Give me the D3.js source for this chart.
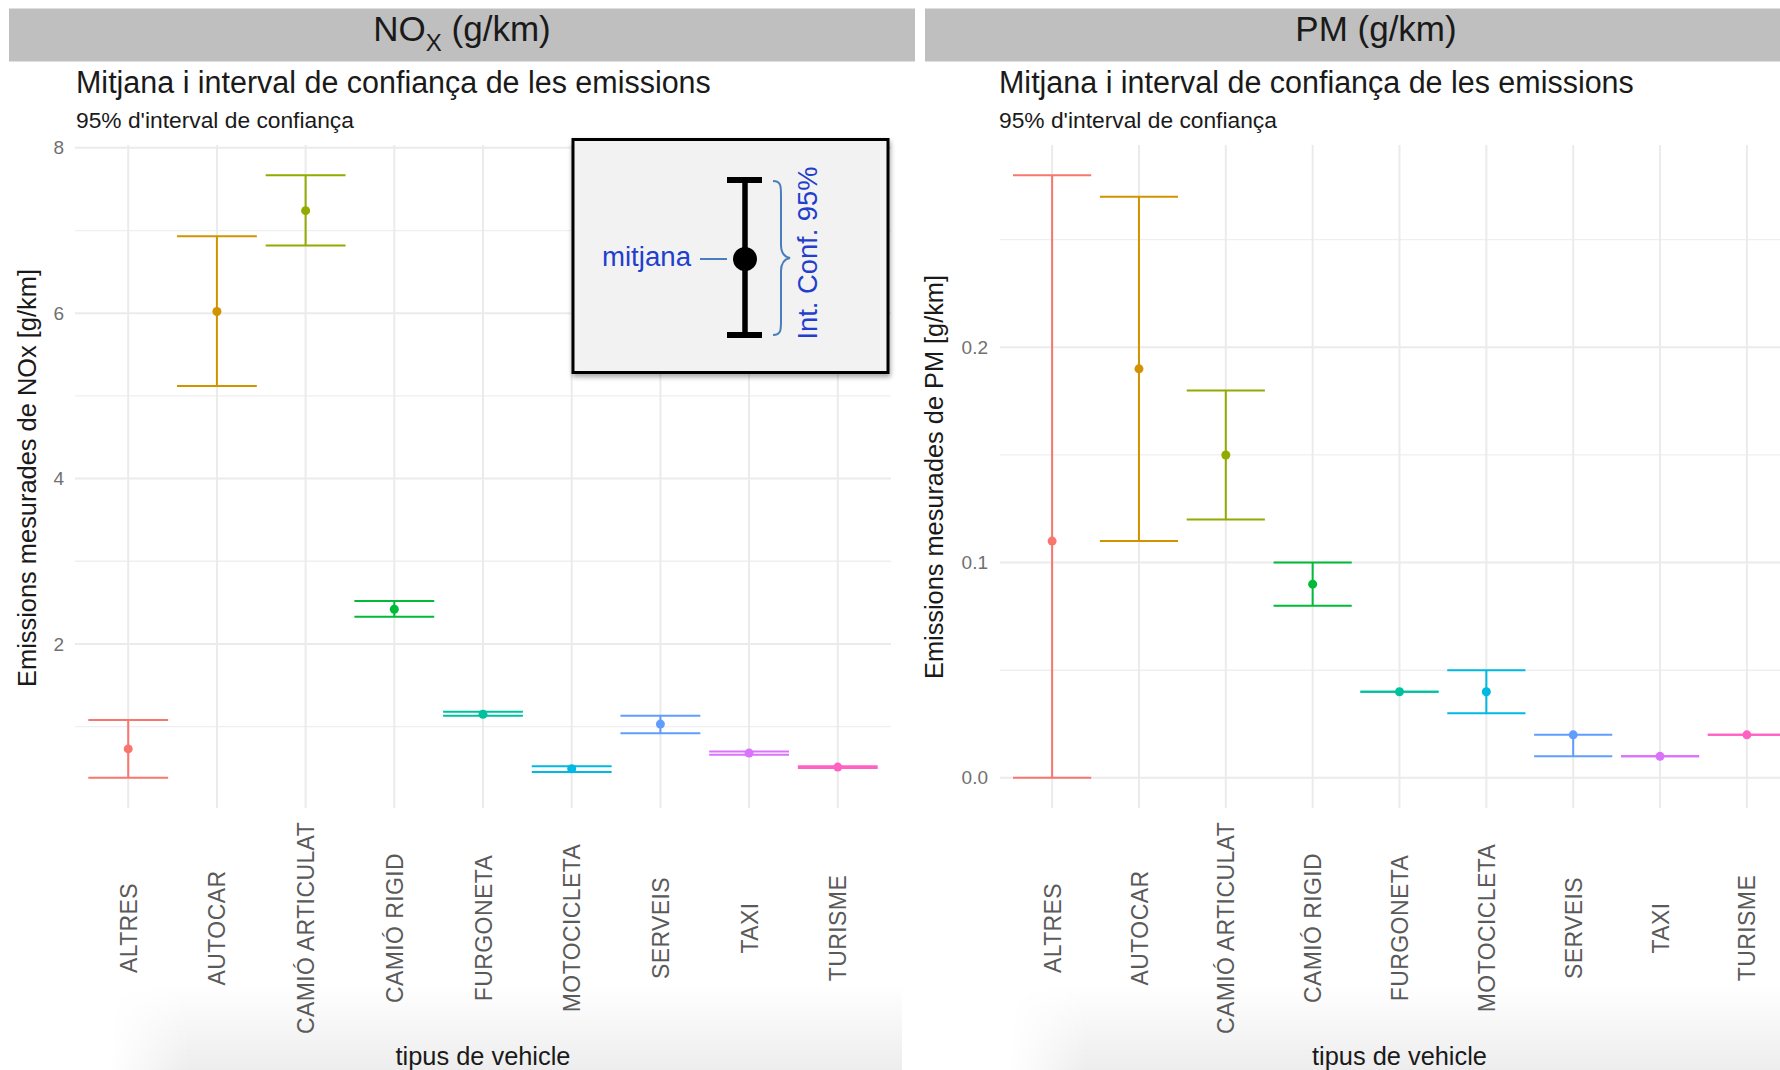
<!DOCTYPE html>
<html><head><meta charset="utf-8">
<script src="https://cdn.jsdelivr.net/npm/d3@7"></script>
<style>
body{margin:0;background:#fff}
svg{display:block}
text{font-family:"Liberation Sans",Arial,Helvetica,sans-serif}
</style>
</head><body>
<svg id="c" width="1780" height="1070"></svg>
<script>
// ---------------- data ----------------
const categories = ["ALTRES","AUTOCAR","CAMIÓ ARTICULAT","CAMIÓ RIGID","FURGONETA","MOTOCICLETA","SERVEIS","TAXI","TURISME"];
const colors = ["#F8766D","#D39200","#93AA00","#00BA38","#00C19F","#00B9E3","#619CFF","#DB72FB","#FF61C3"];

const noxMean = [0.73, 6.02, 7.24, 2.42, 1.15, 0.49, 1.03, 0.68, 0.51];
const noxLow  = [0.38, 5.12, 6.82, 2.33, 1.13, 0.45, 0.92, 0.66, 0.50];
const noxHigh = [1.08, 6.93, 7.67, 2.52, 1.18, 0.52, 1.13, 0.70, 0.52];

const pmMean = [0.11, 0.19, 0.15, 0.09, 0.04, 0.04, 0.02, 0.01, 0.02];
const pmLow  = [0.00, 0.11, 0.12, 0.08, 0.04, 0.03, 0.01, 0.01, 0.02];
const pmHigh = [0.28, 0.27, 0.18, 0.10, 0.04, 0.05, 0.02, 0.01, 0.02];

const noxMajorTicks = [2, 4, 6, 8];
const noxMinorTicks = [1, 3, 5, 7];
const pmMajorTicks = [0, 0.1, 0.2];
const pmMinorTicks = [0.05, 0.15, 0.25];

const titleText = "Mitjana i interval de confiança de les emissions";
const subtitleText = "95% d'interval de confiança";
const xTitleText = "tipus de vehicle";

// ---------------- drawing ----------------
const svg = d3.select("#c");
svg.append("rect").attr("width",1780).attr("height",1070).attr("fill","#fff");

const defs = svg.append("defs");
const vg = defs.append("linearGradient").attr("id","shadeV").attr("x1",0).attr("y1",0).attr("x2",0).attr("y2",1);
vg.append("stop").attr("offset","0").attr("stop-color","#000").attr("stop-opacity",0);
vg.append("stop").attr("offset","1").attr("stop-color","#000").attr("stop-opacity",0.07);
const hg = defs.append("linearGradient").attr("id","fadeH").attr("x1",0).attr("y1",0).attr("x2",1).attr("y2",0);
hg.append("stop").attr("offset","0").attr("stop-color","#fff").attr("stop-opacity",0);
hg.append("stop").attr("offset","0.1").attr("stop-color","#fff").attr("stop-opacity",1);
hg.append("stop").attr("offset","1").attr("stop-color","#fff").attr("stop-opacity",1);
const mask = defs.append("mask").attr("id","fadeMask").attr("maskContentUnits","objectBoundingBox");
mask.append("rect").attr("width",1).attr("height",1).attr("fill","url(#fadeH)");
const sh = defs.append("filter").attr("id","boxShadow").attr("x","-10%").attr("y","-10%").attr("width","130%").attr("height","130%");
sh.append("feDropShadow").attr("dx",1).attr("dy",3).attr("stdDeviation",2.5).attr("flood-color","#000").attr("flood-opacity",0.35);

// bottom soft shading (screenshot shadow)
svg.append("rect").attr("x",110).attr("y",985).attr("width",792).attr("height",85)
  .attr("fill","url(#shadeV)").attr("mask","url(#fadeMask)");
svg.append("rect").attr("x",1010).attr("y",985).attr("width",770).attr("height",85)
  .attr("fill","url(#shadeV)").attr("mask","url(#fadeMask)");

function fit(sel, target){
  const fs = parseFloat(sel.attr("font-size"));
  const w = sel.node().getComputedTextLength();
  sel.attr("font-size", (fs*target/w).toFixed(2));
}

const panelTop = 145, panelBottom = 808;

function drawPanel(cfg){
  const g = svg.append("g");
  // strip
  g.append("rect").attr("x",cfg.stripX0).attr("y",8.5).attr("width",cfg.stripX1-cfg.stripX0).attr("height",53)
    .attr("fill","#BFBFBF");
  const st = g.append("text").attr("x",cfg.stripCenter).attr("y",41).attr("text-anchor","middle")
    .attr("font-size",35).attr("fill","#1a1a1a");
  if (cfg.sub){
    st.append("tspan").text(cfg.stripMain);
    st.append("tspan").attr("font-size",24).attr("dy",10).text(cfg.sub);
    st.append("tspan").attr("dy",-10).text(cfg.stripRest);
  } else {
    st.text(cfg.stripMain);
  }

  // titles
  const t = g.append("text").attr("x",cfg.titleX).attr("y",93).attr("font-size",26).attr("fill","#1a1a1a").text(titleText);
  fit(t, 635);
  const s = g.append("text").attr("x",cfg.titleX).attr("y",128).attr("font-size",20).attr("fill","#1a1a1a").text(subtitleText);
  fit(s, 278);

  // scales
  const lo = d3.min(cfg.low), hi = d3.max(cfg.high), pad = (hi-lo)*0.05;
  const y = d3.scaleLinear().domain([lo-pad, hi+pad]).range([panelBottom, panelTop]);
  const x = d3.scalePoint().domain(categories).range([cfg.x0, cfg.x1]).padding(0.6);
  const step = x.step();

  // grid
  const grid = g.append("g");
  grid.selectAll(".minor").data(cfg.minor).join("line")
    .attr("x1",cfg.x0).attr("x2",cfg.x1).attr("y1",d=>y(d)).attr("y2",d=>y(d))
    .attr("stroke","#EFEFEF").attr("stroke-width",1.3);
  grid.selectAll(".major").data(cfg.major).join("line")
    .attr("x1",cfg.x0).attr("x2",cfg.x1).attr("y1",d=>y(d)).attr("y2",d=>y(d))
    .attr("stroke","#EBEBEB").attr("stroke-width",2);
  grid.selectAll(".vmajor").data(categories).join("line")
    .attr("x1",d=>x(d)).attr("x2",d=>x(d)).attr("y1",panelTop).attr("y2",panelBottom)
    .attr("stroke","#EBEBEB").attr("stroke-width",2);

  // y axis via d3.axisLeft, styled
  const ya = g.append("g").attr("transform",`translate(${cfg.yLabelX},0)`)
    .call(d3.axisLeft(y).tickValues(cfg.major).tickFormat(cfg.fmt).tickSize(0).tickPadding(0));
  ya.select(".domain").remove();
  ya.selectAll("text").attr("font-size",19).attr("fill","#707070").attr("font-family",null);

  // x axis labels
  const xa = g.append("g").attr("transform",`translate(0,928)`)
    .call(d3.axisBottom(x).tickSize(0).tickPadding(0));
  xa.select(".domain").remove();
  xa.selectAll("text").attr("transform","rotate(-90)").attr("text-anchor","middle")
    .attr("dy","0.35em").attr("y",0).attr("x",0)
    .attr("font-size",23).attr("fill","#5a5a5a").attr("letter-spacing","0.4px").attr("font-family",null);

  // axis titles
  const yt = g.append("text").attr("transform",`translate(${cfg.yTitleX},${cfg.yTitleY}) rotate(-90)`)
    .attr("text-anchor","middle").attr("dy","0.35em").attr("font-size",25).attr("fill","#1a1a1a").text(cfg.yTitle);
  fit(yt, cfg.yTitleLen);
  const xt = g.append("text").attr("x",(cfg.x0+cfg.x1)/2).attr("y",1065).attr("text-anchor","middle")
    .attr("font-size",25).attr("fill","#1a1a1a").text(xTitleText);
  fit(xt, 175);

  // error bars
  const idx = d3.range(categories.length);
  const eb = g.append("g");
  eb.selectAll(".v").data(idx).join("line")
    .attr("x1",i=>x(categories[i])).attr("x2",i=>x(categories[i]))
    .attr("y1",i=>y(cfg.low[i])).attr("y2",i=>y(cfg.high[i]))
    .attr("stroke",i=>colors[i]).attr("stroke-width",2);
  eb.selectAll(".lo").data(idx).join("line")
    .attr("x1",i=>x(categories[i])-0.45*step).attr("x2",i=>x(categories[i])+0.45*step)
    .attr("y1",i=>y(cfg.low[i])).attr("y2",i=>y(cfg.low[i]))
    .attr("stroke",i=>colors[i]).attr("stroke-width",2);
  eb.selectAll(".hi").data(idx).join("line")
    .attr("x1",i=>x(categories[i])-0.45*step).attr("x2",i=>x(categories[i])+0.45*step)
    .attr("y1",i=>y(cfg.high[i])).attr("y2",i=>y(cfg.high[i]))
    .attr("stroke",i=>colors[i]).attr("stroke-width",2);
  eb.selectAll("circle").data(idx).join("circle")
    .attr("cx",i=>x(categories[i])).attr("cy",i=>y(cfg.mean[i])).attr("r",4.5)
    .attr("fill",i=>colors[i]);
  return g;
}

drawPanel({
  stripX0:9, stripX1:915, stripCenter:462, stripMain:"NO", sub:"X", stripRest:" (g/km)",
  titleX:76, x0:75, x1:891, yLabelX:64, yTitleX:27, yTitleY:478, yTitleLen:418,
  yTitle:"Emissions mesurades de NOx [g/km]",
  mean:noxMean, low:noxLow, high:noxHigh, major:noxMajorTicks, minor:noxMinorTicks,
  fmt:d3.format("d")
});
drawPanel({
  stripX0:925, stripX1:1832, stripCenter:1376, stripMain:"PM (g/km)",
  titleX:999, x0:1000, x1:1799, yLabelX:988, yTitleX:934, yTitleY:477, yTitleLen:404,
  yTitle:"Emissions mesurades de PM [g/km]",
  mean:pmMean, low:pmLow, high:pmHigh, major:pmMajorTicks, minor:pmMinorTicks,
  fmt:d3.format(".1f")
});

// ---------------- legend box ----------------
const lg = svg.append("g");
lg.append("rect").attr("x",573).attr("y",139.5).attr("width",315).attr("height",233)
  .attr("fill","#F2F2F2").attr("stroke","#000").attr("stroke-width",3).attr("filter","url(#boxShadow)");
const cx = 745;
lg.append("line").attr("x1",cx).attr("x2",cx).attr("y1",180).attr("y2",335).attr("stroke","#000").attr("stroke-width",5.5);
lg.append("line").attr("x1",727).attr("x2",762).attr("y1",180).attr("y2",180).attr("stroke","#000").attr("stroke-width",6);
lg.append("line").attr("x1",727).attr("x2",762).attr("y1",335).attr("y2",335).attr("stroke","#000").attr("stroke-width",6);
lg.append("circle").attr("cx",cx).attr("cy",259).attr("r",12).attr("fill","#000");
lg.append("line").attr("x1",700).attr("x2",727).attr("y1",259).attr("y2",259).attr("stroke","#4A7EBB").attr("stroke-width",2);
const mt = lg.append("text").attr("x",691).attr("y",266).attr("text-anchor","end").attr("font-size",27)
  .attr("fill","#1F3FCC").text("mitjana");
fit(mt, 89);
lg.append("path")
  .attr("d","M773,181 C781,181 781,186 781,195 L781,245 C781,253 785,257 790,258 C785,259 781,263 781,271 L781,321 C781,330 781,335 773,335")
  .attr("fill","none").attr("stroke","#4A7EBB").attr("stroke-width",2);
const ic = lg.append("text").attr("transform","translate(817,253) rotate(-90)").attr("text-anchor","middle")
  .attr("font-size",27).attr("fill","#1F3FCC").text("Int. Conf. 95%");
fit(ic, 173);
</script>
</body></html>
